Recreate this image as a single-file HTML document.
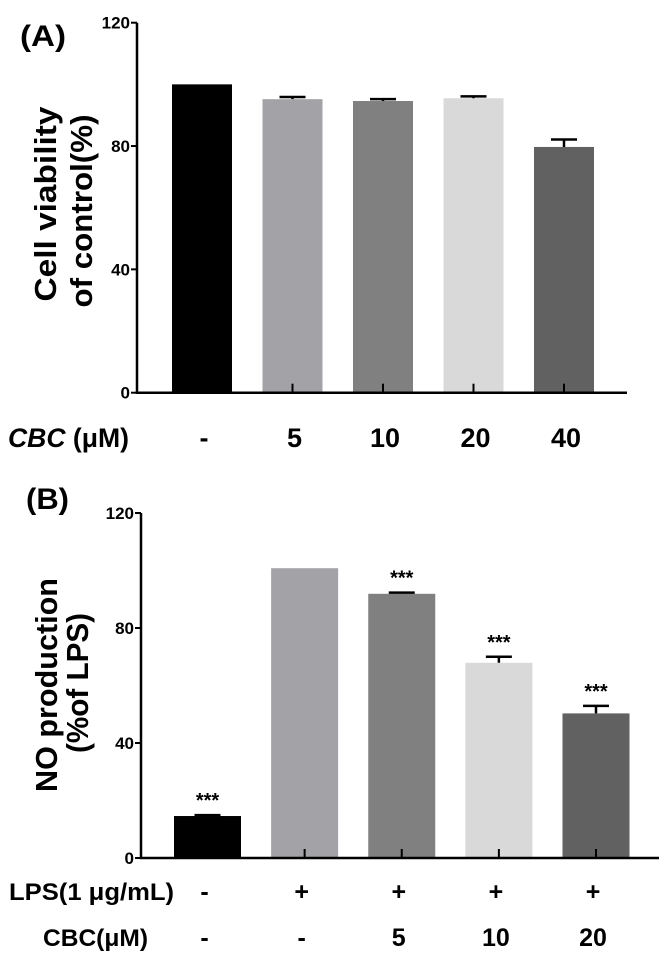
<!DOCTYPE html>
<html><head><meta charset="utf-8"><style>
html,body{margin:0;padding:0;background:#fff;}
svg{display:block;font-family:"Liberation Sans",sans-serif;}
</style></head><body>
<svg id="fig" width="670" height="960" viewBox="0 0 670 960"></svg>
<script>
const catsA = ["-", "5", "10", "20", "40"];
const valsA = [100, 95.2, 94.6, 95.5, 79.7];
const errA = [0, 0.7, 0.6, 0.6, 2.4];
const colorsA = ["#000000", "#a3a2a6", "#808080", "#d9d9d9", "#616161"];
const ticksA = [0, 40, 80, 120];

const lpsB = ["-", "+", "+", "+", "+"];
const cbcB = ["-", "-", "5", "10", "20"];
const valsB = [14.6, 100.8, 91.9, 67.9, 50.3];
const errB = [0.3, 0, 0.4, 2.1, 2.6];
const sigB = ["***", "", "***", "***", "***"];
const colorsB = ["#000000", "#a3a2a6", "#808080", "#d9d9d9", "#616161"];
const ticksB = [0, 40, 80, 120];

const NS = "http://www.w3.org/2000/svg";
const svg = document.getElementById("fig");
function mk(tag, attrs, parent, text){
  const e = document.createElementNS(NS, tag);
  for (const k in attrs) e.setAttribute(k, attrs[k]);
  if (text !== undefined) e.textContent = text;
  (parent || svg).appendChild(e);
  return e;
}

function panel(cfg){
  const g = mk("g", {});
  
  
  const y = v => cfg.y0 - v * (cfg.y0 - cfg.yTop) / 120;
  const n = cfg.vals.length;
  const step = (cfg.lastC - cfg.firstC) / (n - 1);
  const xc = i => cfg.firstC + i * step;
  cfg.vals.forEach((v, i) => {
    const r = mk("rect", {x: xc(i) - cfg.bw/2, y: y(v), width: cfg.bw, height: cfg.y0 - y(v), fill: cfg.colors[i]}, g);
    
    
    if (cfg.err[i] > 0) {
      const e = mk("path", {d: `M${xc(i)} ${y(v)} V${y(v + cfg.err[i])} M${xc(i)-13} ${y(v + cfg.err[i])} H${xc(i)+13}`, stroke: "#000", "stroke-width": 2.5, fill: "none"}, g);
      
      
    }
    const t = mk("line", {x1: xc(i), x2: xc(i), y1: cfg.y0, y2: cfg.y0 - 9, stroke: "#000", "stroke-width": 2}, g);
    
    
    if (cfg.sig && cfg.sig[i]) {
      const s = mk("text", {x: xc(i), y: y(v + cfg.err[i]) - 8, "text-anchor": "middle", "font-size": 20, "font-weight": "bold"}, g, cfg.sig[i]);
      
      
    }
  });
  const ax = mk("path", {d: `M${cfg.ax} ${cfg.yTop} V${cfg.y0} H${cfg.axEnd}`, stroke: "#000", "stroke-width": 2.5, fill: "none"}, g);
  
  
  cfg.ticks.forEach(tv => {
    const l = mk("line", {x1: cfg.ax - 6, x2: cfg.ax, y1: y(tv), y2: y(tv), stroke: "#000", "stroke-width": 2}, g);
    
    
    const t = mk("text", {x: cfg.ax - 7, y: y(tv) + 6, "text-anchor": "end", "font-size": 17, "font-weight": "bold"}, g, String(tv));
    
    
  });
  return {g, xc};
}

// Panel A
const A = panel({name: "chart-a", vals: valsA, err: errA, colors: colorsA, ticks: ticksA,
  y0: 392.7, yTop: 22.7, ax: 137, axEnd: 627, firstC: 202, lastC: 564, bw: 60});
let t;
t = mk("text", {x: 20, y: 46, "font-size": 30, "font-weight": "bold", textLength: 46, lengthAdjust: "spacingAndGlyphs"}, A.g, "(A)");
 
t = mk("text", {transform: "translate(56,204) rotate(-90)", "text-anchor": "middle", "font-size": 31, "font-weight": "bold", textLength: 195, lengthAdjust: "spacingAndGlyphs"}, A.g, "Cell viability");
 
t = mk("text", {transform: "translate(92,211) rotate(-90)", "text-anchor": "middle", "font-size": 31, "font-weight": "bold", textLength: 193, lengthAdjust: "spacingAndGlyphs"}, A.g, "of control(%)");
 
t = mk("text", {x: 8, y: 447, "font-size": 27, "font-weight": "bold", textLength: 121, lengthAdjust: "spacingAndGlyphs"}, A.g);
mk("tspan", {"font-style": "italic"}, t, "CBC");
mk("tspan", {}, t, " (μM)");
 
catsA.forEach((c, i) => {
  const l = mk("text", {x: A.xc(i) + 2, y: 447, "text-anchor": "middle", "font-size": 27, "font-weight": "bold"}, A.g, c);
   
});

// Panel B
const B = panel({name: "chart-b", vals: valsB, err: errB, colors: colorsB, ticks: ticksB, sig: sigB,
  y0: 858, yTop: 513, ax: 141, axEnd: 659, firstC: 207.5, lastC: 596, bw: 67});
t = mk("text", {x: 26, y: 509, "font-size": 30, "font-weight": "bold", textLength: 43, lengthAdjust: "spacingAndGlyphs"}, B.g, "(B)");
 
t = mk("text", {transform: "translate(57,685) rotate(-90)", "text-anchor": "middle", "font-size": 31, "font-weight": "bold", textLength: 214, lengthAdjust: "spacingAndGlyphs"}, B.g, "NO production");
 
t = mk("text", {transform: "translate(88,683) rotate(-90)", "text-anchor": "middle", "font-size": 31, "font-weight": "bold", textLength: 140, lengthAdjust: "spacingAndGlyphs"}, B.g, "(%of LPS)");
 
t = mk("text", {x: 9, y: 900, "font-size": 24, "font-weight": "bold", textLength: 165, lengthAdjust: "spacingAndGlyphs"}, B.g, "LPS(1 μg/mL)");
 
t = mk("text", {x: 43, y: 946, "font-size": 24, "font-weight": "bold", textLength: 105, lengthAdjust: "spacingAndGlyphs"}, B.g, "CBC(μM)");
 
lpsB.forEach((c, i) => {
  const l = mk("text", {x: B.xc(i) - 3, y: 900, "text-anchor": "middle", "font-size": 25, "font-weight": "bold"}, B.g, c);
   
});
cbcB.forEach((c, i) => {
  const l = mk("text", {x: B.xc(i) - 3, y: 946, "text-anchor": "middle", "font-size": 25, "font-weight": "bold"}, B.g, c);
   
});
</script>
</body></html>
